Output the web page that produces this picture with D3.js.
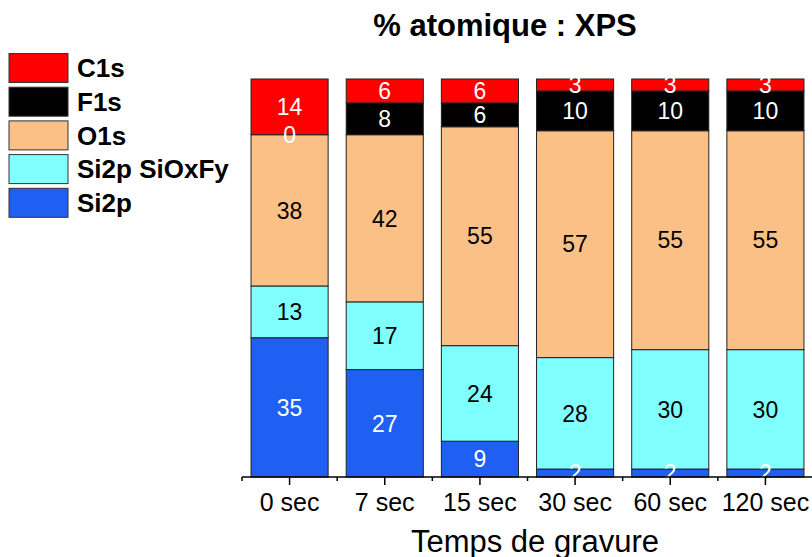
<!DOCTYPE html>
<html><head><meta charset="utf-8">
<script src="https://cdn.jsdelivr.net/npm/d3@7"></script>
<style>body{margin:0;background:#fff}</style>
</head><body>
<svg id="c" width="812" height="557"></svg>
<script>
const categories = ["0 sec","7 sec","15 sec","30 sec","60 sec","120 sec"];
const seriesNames = ["Si2p","Si2p SiOxFy","O1s","F1s","C1s"];
const si2p   = [35,27,9,2,2,2];
const siOxFy = [13,17,24,28,30,30];
const o1s    = [38,42,55,57,55,55];
const f1s    = [0,8,6,10,10,10];
const c1s    = [14,6,6,3,3,3];
const colors = ["#1f5ff2","#80ffff","#fbc086","#000000","#ff0000"];
const labelColors = ["#fff","#000","#000","#fff","#fff"];
const seriesVals = [si2p, siOxFy, o1s, f1s, c1s];
const FONT = "Liberation Sans, Arial, sans-serif";

const rows = categories.map((c,i)=>{const r={cat:c}; seriesNames.forEach((s,k)=>r[s]=seriesVals[k][i]); return r;});
const stack = d3.stack().keys(seriesNames)(rows);

const svg = d3.select("#c");
const x = d3.scaleBand().domain(categories).range([242,813]).paddingInner(0.19).paddingOuter(0.095);
const y = d3.scaleLinear().domain([0,100]).range([477,79]);

const g = svg.append("g");
stack.forEach((layer,k)=>{
  g.selectAll(null).data(layer).enter().append("rect")
    .attr("x",d=>x(d.data.cat)).attr("width",x.bandwidth())
    .attr("y",d=>y(d[1])).attr("height",d=>y(d[0])-y(d[1]))
    .attr("fill",colors[k]).attr("stroke","#222").attr("stroke-width",1);
});
stack.forEach((layer,k)=>{
  g.selectAll(null).data(layer).enter().append("text")
    .attr("x",d=>x(d.data.cat)+x.bandwidth()/2)
    .attr("y",d=>(y(d[0])+y(d[1]))/2)
    .attr("dy","0.36em").attr("text-anchor","middle")
    .attr("font-family",FONT).attr("font-size",23)
    .attr("fill",labelColors[k]).text(d=>d[1]-d[0]);
});

// x axis
const ax = svg.append("g").attr("transform","translate(0,477)");
ax.append("line").attr("x1",242).attr("x2",812).attr("stroke","#000").attr("stroke-width",1.5);
categories.forEach((c,i)=>{
  const cx = x(c)+x.bandwidth()/2;
  ax.append("line").attr("x1",cx).attr("x2",cx).attr("y1",0).attr("y2",8).attr("stroke","#000").attr("stroke-width",1.5);
  const bx = x.range()[0] + i*x.step();
  ax.append("line").attr("x1",bx).attr("x2",bx).attr("y1",0).attr("y2",4).attr("stroke","#000").attr("stroke-width",1.5);
  ax.append("text").attr("x",cx).attr("y",34).attr("text-anchor","middle")
    .attr("font-family",FONT).attr("font-size",25).attr("fill","#000").text(c);
});

svg.append("text").attr("x",505).attr("y",36).attr("text-anchor","middle")
  .attr("font-family",FONT).attr("font-size",31).attr("font-weight","bold").text("% atomique : XPS");
svg.append("text").attr("x",535).attr("y",552).attr("text-anchor","middle")
  .attr("font-family",FONT).attr("font-size",31).text("Temps de gravure");

// legend
const legendOrder = [4,3,2,1,0];
legendOrder.forEach((k,j)=>{
  const ly = 53.5 + j*33.7;
  svg.append("rect").attr("x",9).attr("y",ly).attr("width",59).attr("height",29)
    .attr("fill",colors[k]).attr("stroke","#333").attr("stroke-width",1);
  svg.append("text").attr("x",77).attr("y",ly+14.5).attr("dy","0.36em")
    .attr("font-family",FONT).attr("font-size",26).attr("font-weight","bold").text(seriesNames[k]);
});
</script>
</body></html>
